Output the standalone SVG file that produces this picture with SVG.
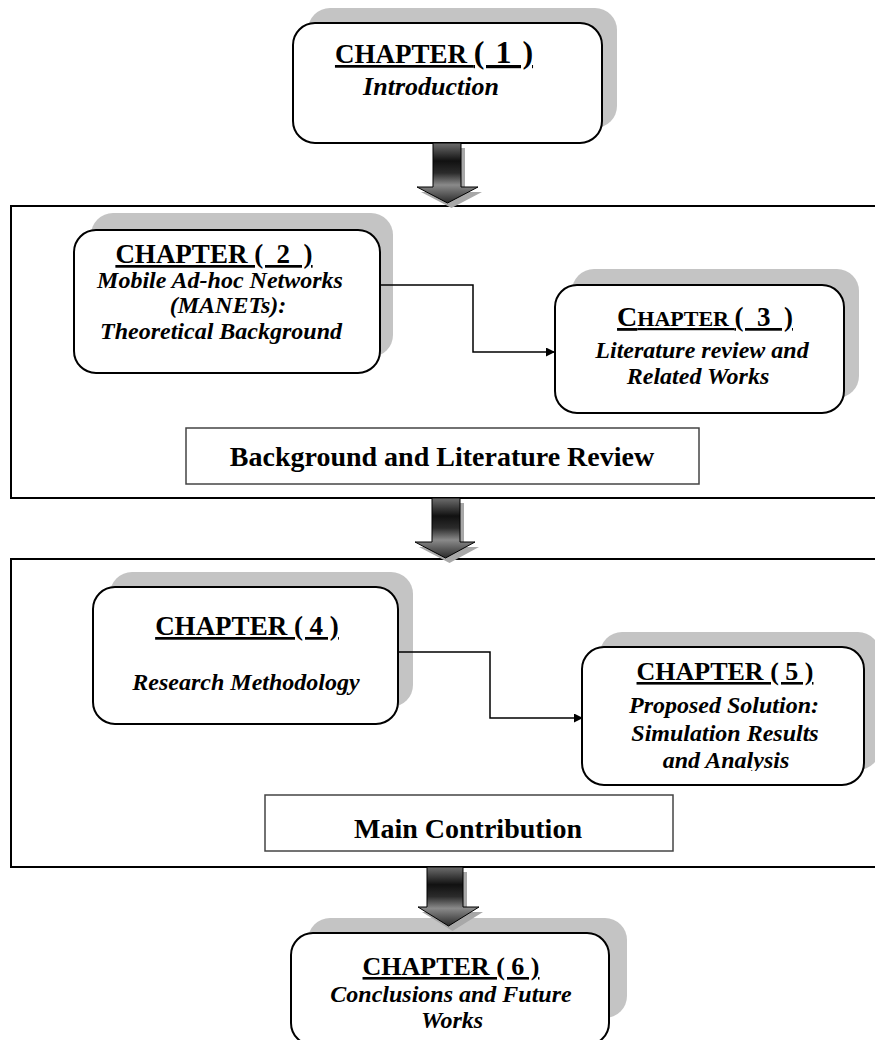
<svg xmlns="http://www.w3.org/2000/svg" width="875" height="1040" viewBox="0 0 875 1040">
<defs>
<style>
.frame{fill:none;stroke:#000;stroke-width:2}
.tbox{fill:#fff;stroke:#444;stroke-width:1.5}
.box{fill:#fff;stroke:#000;stroke-width:2}
.shadow{fill:#c4c4c4}
.t{font-family:"Liberation Serif","Times New Roman",serif;font-weight:bold;fill:#000;text-anchor:middle}
.title{font-size:27px;text-decoration:underline;white-space:pre}
.sub{font-size:24px;font-style:italic}
.big{font-size:28px}
.conn{fill:none;stroke:#000;stroke-width:1.5}
.arrow{fill:url(#ag);stroke:#000;stroke-width:1}
.ashadow{fill:#a8a8a8}
</style>
<linearGradient id="ag" x1="0" y1="0" x2="0" y2="1">
<stop offset="0" stop-color="#6e6e6e"/>
<stop offset="0.3" stop-color="#111"/>
<stop offset="0.5" stop-color="#2b2b2b"/>
<stop offset="0.7" stop-color="#8a8a8a"/>
<stop offset="0.85" stop-color="#5a5a5a"/>
<stop offset="1" stop-color="#2a2a2a"/>
</linearGradient>
<marker id="ah" viewBox="0 0 10 10" refX="10" refY="5" markerWidth="10" markerHeight="9" markerUnits="userSpaceOnUse" orient="auto">
<path d="M0,0 L10,5 L0,10 z" fill="#000"/>
</marker>
<clipPath id="c5clip"><rect x="582" y="647" width="282" height="124"/></clipPath>
</defs>

<g id="frame1">
<rect class="frame" x="11" y="206" width="880" height="292"/>
<rect class="tbox" x="186" y="428" width="513" height="56"/>
<text class="t big" x="442" y="466">Background and Literature Review</text>
</g>

<g id="frame2">
<rect class="frame" x="11" y="559" width="880" height="308"/>
<rect class="tbox" x="265" y="795" width="408" height="56"/>
<text class="t big" x="468" y="838">Main Contribution</text>
</g>

<g id="chapter1">
<rect class="shadow" x="308" y="8" width="309" height="120" rx="22"/>
<rect class="box" x="293" y="23" width="309" height="120" rx="22"/>
<text class="t title" x="434" y="63">CHAPTER <tspan style="font-size:32px;word-spacing:3px">( 1 )</tspan></text>
<text class="t sub" x="431" y="95" style="font-size:26px">Introduction</text>
</g>

<g id="chapter2">
<rect class="shadow" x="91" y="213" width="302" height="144" rx="22"/>
<rect class="box" x="74" y="230" width="306" height="143" rx="22"/>
<text class="t title" x="214" y="263">CHAPTER (  2  )</text>
<text class="t sub" x="220" y="288">Mobile Ad-hoc Networks</text>
<text class="t sub" x="228" y="313">(MANETs):</text>
<text class="t sub" x="221" y="339">Theoretical Background</text>
</g>

<g id="chapter3">
<rect class="shadow" x="572" y="269" width="287" height="129" rx="22"/>
<rect class="box" x="555" y="285" width="289" height="128" rx="22"/>
<text class="t title" x="705" y="326"><tspan style="font-size:28px">C</tspan><tspan style="font-size:22px">HAPTER </tspan>(  3  )</text>
<text class="t sub" x="702" y="358">Literature review and</text>
<text class="t sub" x="698" y="384">Related Works</text>
</g>

<g id="chapter4">
<rect class="shadow" x="110" y="572" width="303" height="135" rx="22"/>
<rect class="box" x="93" y="587" width="305" height="137" rx="22"/>
<text class="t title" x="247" y="635">CHAPTER ( 4 )</text>
<text class="t sub" x="246" y="690">Research Methodology</text>
</g>

<g id="chapter5">
<rect class="shadow" x="600" y="632" width="280" height="138" rx="22"/>
<rect class="box" x="582" y="647" width="282" height="138" rx="22"/>
<text class="t title" x="725" y="680" style="font-size:26px">CHAPTER ( 5 )</text>
<g clip-path="url(#c5clip)">
<text class="t sub" x="724" y="713">Proposed Solution:</text>
<text class="t sub" x="725" y="741">Simulation Results</text>
<text class="t sub" x="726" y="768">and Analysis</text>
</g>
</g>

<g id="chapter6">
<rect class="shadow" x="308" y="918" width="319" height="100" rx="22"/>
<rect class="box" x="291" y="933" width="318" height="112" rx="22"/>
<text class="t title" x="451" y="975" style="font-size:26px">CHAPTER ( 6 )</text>
<text class="t sub" x="451" y="1002">Conclusions and Future</text>
<text class="t sub" x="452" y="1028">Works</text>
</g>

<g id="connectors">
<path class="conn" d="M380,285 H473 V352 H555" marker-end="url(#ah)"/>
<path class="conn" d="M398,652 H490 V718 H583" marker-end="url(#ah)"/>
<path class="ashadow" d="M437,148 H465 V192 H482 L451.5,208 L421,192 H437 Z"/>
<path class="arrow" d="M433,143 H461 V187 H478 L447.5,203 L417,187 H433 Z"/>
<path class="ashadow" d="M436,503 H464 V547 H479 L449.5,563 L419,547 H436 Z"/>
<path class="arrow" d="M432,498 H460 V542 H475 L445.5,558 L415,542 H432 Z"/>
<path class="ashadow" d="M431,872 H467 V912 H483 L452.5,931 L422,912 H431 Z"/>
<path class="arrow" d="M427,867 H463 V907 H479 L448.5,926 L418,907 H427 Z"/>
</g>
</svg>
